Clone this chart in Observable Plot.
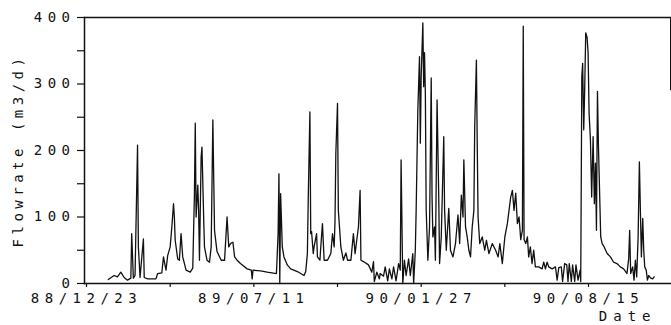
<!DOCTYPE html>
<html><head><meta charset="utf-8">
<script src="https://cdn.jsdelivr.net/npm/d3@7"></script>
<script src="https://cdn.jsdelivr.net/npm/@observablehq/plot@0.6"></script>
<style>
body{margin:0;background:#fff;}
#chart svg{display:block;}
</style></head><body><div id="chart"></div>
<script>
// x = days since 88/12/23, y = flowrate (m3/d)
const series = [[26,6],[33,12],[37,10],[41,17],[45,9],[49,5],[53,8],[54,75],[56,8],[58,12],[61,208],[62,55],[64,9],[68,67],[69,9],[73,7],[83,7],[85,15],[90,16],[92,40],[95,20],[97,42],[100,55],[102,85],[104,120],[105,100],[106,65],[109,37],[111,35],[113,75],[115,40],[119,20],[124,17],[127,23],[129,135],[130,241],[131,100],[133,148],[134,110],[135,35],[137,190],[138,205],[140,100],[141,55],[144,35],[147,32],[149,55],[151,246],[153,80],[156,48],[161,35],[165,35],[168,100],[170,55],[172,60],[175,62],[177,40],[180,35],[184,30],[192,22],[197,20],[198,7],[199,20],[208,19],[216,17],[227,15],[229,75],[230,165],[231,0],[232,135],[234,55],[236,40],[240,28],[244,22],[252,18],[260,12],[262,18],[264,45],[265,125],[267,258],[268,75],[269,78],[271,45],[272,55],[275,75],[276,40],[279,35],[280,55],[282,90],[284,35],[288,35],[292,45],[294,75],[296,55],[297,93],[298,196],[300,271],[301,110],[304,55],[307,35],[310,46],[312,35],[316,35],[319,75],[321,45],[325,85],[327,140],[328,35],[331,33],[337,28],[341,17],[343,33],[344,3],[347,17],[350,7],[351,15],[355,11],[357,25],[360,4],[362,22],[365,7],[367,25],[370,4],[373,30],[375,20],[376,186],[378,0],[380,35],[382,12],[385,37],[387,12],[390,45],[391,0],[393,50],[394,110],[396,261],[398,341],[399,211],[400,311],[402,392],[403,296],[404,347],[405,286],[406,110],[408,35],[410,85],[412,309],[413,130],[414,70],[416,85],[417,35],[419,276],[421,130],[422,30],[424,70],[427,221],[428,110],[430,50],[433,113],[435,50],[438,40],[441,60],[444,103],[446,60],[448,133],[450,100],[451,186],[453,85],[455,70],[457,50],[459,40],[461,85],[463,110],[464,236],[466,336],[467,210],[468,100],[470,60],[473,70],[476,50],[478,65],[481,45],[485,60],[489,50],[492,40],[494,60],[497,30],[500,70],[503,90],[505,110],[507,130],[509,140],[511,110],[513,136],[515,90],[517,100],[519,66],[521,80],[522,387],[523,66],[525,60],[527,70],[528.5,40],[530.5,55],[532.5,30],[534.5,50],[536.5,25],[540.5,25],[544.5,22],[546.5,32],[548.5,22],[550.5,32],[552.5,25],[556.5,22],[560.5,25],[562.5,5],[564.5,24],[567.5,25],[569,3],[571.5,30],[574,28],[575.5,3],[577,30],[579.5,3],[581,28],[583.5,3],[585,28],[587.5,5],[590,20],[590.7,3],[592,311],[593,331],[594.3,231],[595.5,296],[596.7,377],[598.3,370],[599.5,347],[600.7,256],[602.3,216],[603.8,130],[605.5,221],[607,120],[608.3,181],[609.5,80],[610.7,289],[611.8,211],[613,150],[614.6,70],[616.3,60],[618.7,55],[622.3,45],[626.2,40],[630,32],[634,30],[638,25],[642,22],[646,15],[648,37],[649.2,80],[650.4,15],[652.8,25],[654.4,5],[656,35],[657.6,10],[659.3,70],[660.8,183],[662,110],[663.2,40],[664.8,98],[666,50],[667.2,25],[669,20],[670.4,5],[672,12],[674.4,8],[676.7,7],[678.4,10]];

const xTickDays = [0, 200, 400, 600];
const xTickLabels = ["88/12/23", "89/07/11", "90/01/27", "90/08/15"];
const xMinorDays = [100, 300, 500];
const yTickValues = [0, 100, 200, 300, 400];
const yMinorValues = [50, 150, 250, 350];
const yLabel = "Flowrate (m3/d)";
const xLabel = "Date";
const xDomain = [-2.4, 698];
const yDomain = [0, 400];

const data = series.map(([day, flow]) => ({day, flow}));
const ink = "#111";

const chart = Plot.plot({
  width: 671, height: 325,
  marginLeft: 84, marginRight: 1, marginTop: 17, marginBottom: 42,
  x: {domain: xDomain},
  y: {domain: yDomain},
  style: {fontFamily: "'DejaVu Sans Mono', monospace", fontSize: "14px", color: ink, background: "#fff"},
  marks: [
    Plot.axisX({ticks: [...xTickDays, ...xMinorDays], tickSize: 4, tickPadding: 6, strokeWidth: 1.2,
      tickFormat: d => { const i = xTickDays.indexOf(d); return i >= 0 ? xTickLabels[i] : ""; }, label: null}),
    Plot.axisY({ticks: [...yTickValues, ...yMinorValues], tickSize: 7, tickPadding: 2, strokeWidth: 1.2,
      tickFormat: d => yTickValues.includes(d) ? String(d) : "", label: null}),
    Plot.frame({anchor: "left", stroke: ink, strokeWidth: 1.5}),
    Plot.frame({anchor: "top", stroke: ink, strokeWidth: 1.3}),
    Plot.frame({anchor: "bottom", stroke: ink, strokeWidth: 1.5}),
    Plot.ruleX([xDomain[1]], {y1: 290, y2: yDomain[1], stroke: ink, strokeWidth: 1}),
    Plot.line(data, {x: "day", y: "flow", stroke: ink, strokeWidth: 1.3}),
    Plot.text([yLabel], {text: d => d, frameAnchor: "left", textAnchor: "middle", lineAnchor: "middle", dx: -66, rotate: -90, fontSize: 14, fill: ink, className: "ylab"}),
    Plot.text([xLabel], {text: d => d, frameAnchor: "bottom-right", textAnchor: "end", lineAnchor: "middle", dx: -14, dy: 33, fontSize: 14, fill: ink, className: "xlab"})
  ]
});
document.getElementById("chart").appendChild(chart);
const svg = d3.select(chart);
svg.selectAll("text").style("letter-spacing", "5.5px");
svg.selectAll(".ylab text").style("letter-spacing", "4.5px");
svg.selectAll(".xlab text").style("letter-spacing", "6px");
</script></body></html>
